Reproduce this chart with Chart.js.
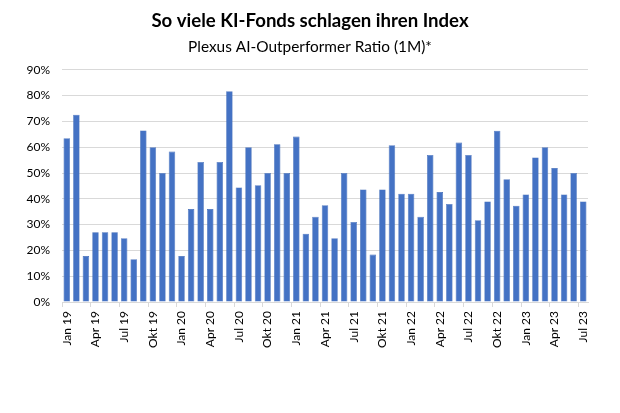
<!DOCTYPE html>
<html>
<head>
<meta charset="utf-8">
<script src="https://cdn.jsdelivr.net/npm/chart.js@4"></script>
<style>
html,body{margin:0;padding:0;background:#fff;}
#wrap{width:620px;height:413px;}
</style>
</head>
<body>
<div id="wrap"><canvas id="c" width="620" height="413"></canvas></div>
<script>
const months = ['Jan','Feb','Mär','Apr','Mai','Jun','Jul','Aug','Sep','Okt','Nov','Dez'];
const years = ['19','20','21','22','23'];
const categories = [];
for (const y of years) for (const m of months) { if (categories.length < 55) categories.push(m + ' ' + y); }
const values = [
  63.5, 72.6, 17.8, 27.0, 27.0, 27.0, 24.7, 16.6, 66.5, 60.0, 50.0, 58.3,
  17.8, 36.0, 54.3, 36.0, 54.3, 81.7, 44.4, 60.0, 45.3, 50.0, 61.1, 50.0,
  64.1, 26.5, 33.0, 37.5, 24.7, 50.0, 31.0, 43.6, 18.4, 43.6, 60.8, 42.0,
  42.0, 33.0, 57.0, 42.6, 38.0, 61.8, 57.0, 31.7, 39.0, 66.4, 47.6, 37.3,
  41.7, 56.0, 60.0, 51.9, 41.7, 50.0, 39.0
];
const yTicks = [0,10,20,30,40,50,60,70,80,90];
const titleText = 'So viele KI-Fonds schlagen ihren Index';
const subtitleText = 'Plexus AI-Outperformer Ratio (1M)*';

const FONT = 'Lato, "Liberation Sans", sans-serif';
new Chart(document.getElementById('c'), {
  type: 'bar',
  data: {
    labels: categories,
    datasets: [{
      data: values,
      backgroundColor: '#4472C4',
      borderColor: '#3d68b5',
      borderWidth: 0.6,
      barPercentage: 0.68,
      categoryPercentage: 1.0,
      yAxisID: 'y'
    }]
  },
  options: {
    responsive: false,
    animation: false,
    devicePixelRatio: 1,
    layout: { padding: { left: 0, right: 0, top: 0, bottom: 0 } },
    plugins: {
      legend: { display: false },
      tooltip: { enabled: false },
      title: {
        display: true, text: titleText, color: '#000',
        font: { family: FONT, size: 18.6, weight: 'bold' },
        padding: { top: 10, bottom: 5 }
      },
      subtitle: {
        display: true, text: subtitleText, color: '#000',
        font: { family: FONT, size: 15.4 },
        padding: { top: 0, bottom: 14 }
      }
    },
    scales: {
      x: {
        grid: {
          display: true, drawOnChartArea: false, offset: true, tickLength: 5,
          color: ctx => (ctx.index % 3 === 0 ? '#d9d9d9' : 'rgba(0,0,0,0)')
        },
        border: { display: true, color: '#d9d9d9' },
        ticks: {
          autoSkip: false, minRotation: 90, maxRotation: 90, padding: 4,
          color: '#000', font: { family: FONT, size: 12 },
          callback: function(v, i) { return i % 3 === 0 ? categories[i] : ''; }
        },
        afterFit: s => { s.height = 111; }
      },
      y: {
        min: 0, max: 90,
        afterBuildTicks: s => { s.ticks = yTicks.map(v => ({ value: v })); },
        grid: { color: '#d9d9d9', drawTicks: false },
        border: { display: false },
        ticks: {
          padding: 12, color: '#000', font: { family: FONT, size: 12 },
          callback: v => v + '%'
        },
        afterFit: s => { s.width = 62; }
      },
      yr: {
        position: 'right', min: 0, max: 90,
        grid: { display: false },
        border: { display: false },
        ticks: { display: false },
        afterFit: s => { s.width = 32; }
      }
    }
  }
});
</script>
</body>
</html>
